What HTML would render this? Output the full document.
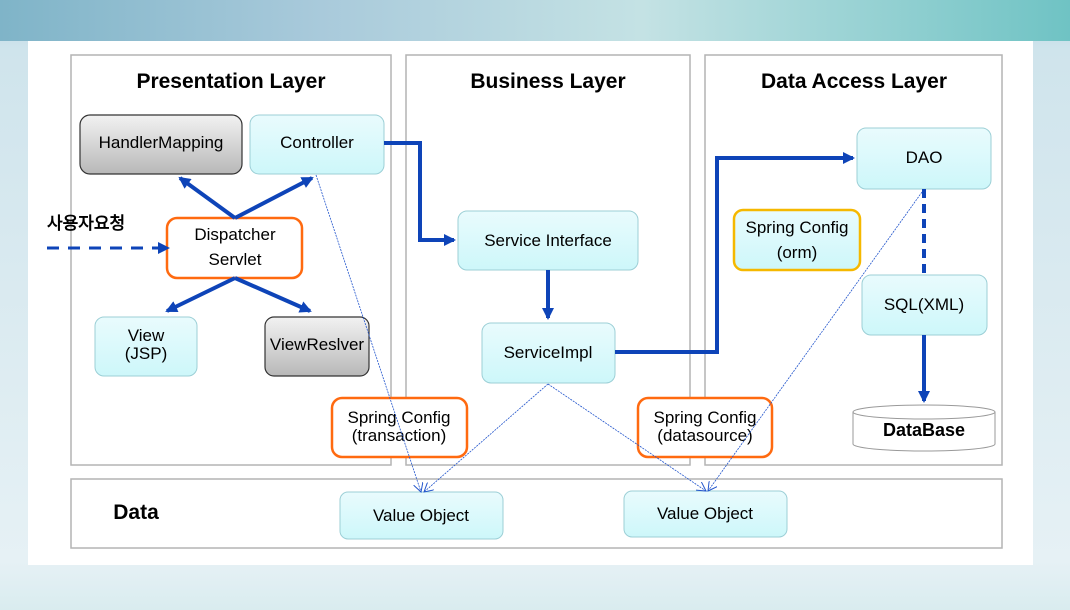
<!DOCTYPE html>
<html><head><meta charset="utf-8"><style>
html,body{margin:0;padding:0;width:1070px;height:610px;overflow:hidden}
body{background:linear-gradient(180deg,#b9d6e3 0%,#cfe4ec 8%,#e6f1f5 92%,#d9ecef 100%)}
svg{position:absolute;left:0;top:0}
text{font-family:"Liberation Sans","DejaVu Sans",sans-serif}
</style></head><body>
<svg width="1070" height="610" viewBox="0 0 1070 610">
<defs>
<linearGradient id="bg" x1="0" y1="0" x2="1" y2="0"><stop offset="0" stop-color="#7fb4c8"/><stop offset=".3" stop-color="#a9cadb"/><stop offset=".6" stop-color="#c4e2e4"/><stop offset="1" stop-color="#6fc3c4"/></linearGradient>
<linearGradient id="cy" x1="0" y1="0" x2="0" y2="1"><stop offset="0" stop-color="#e9fbfd"/><stop offset="1" stop-color="#cdf7fa"/></linearGradient>
<linearGradient id="gr" x1="0" y1="0" x2="0" y2="1"><stop offset="0" stop-color="#f2f2f2"/><stop offset="1" stop-color="#b8b8b8"/></linearGradient>
<marker id="ah" markerWidth="13" markerHeight="12" refX="10" refY="6" orient="auto" markerUnits="userSpaceOnUse"><path d="M0,0 L12,6 L0,12 z" fill="#0e44b8"/></marker>
<marker id="th" markerWidth="10" markerHeight="10" refX="9" refY="5" orient="auto" markerUnits="userSpaceOnUse"><path d="M0,0 L9,5 L0,10" fill="none" stroke="#2255cc" stroke-width="1"/></marker>
</defs>
<rect x="0" y="0" width="1070" height="41" fill="url(#bg)"/>
<rect x="28" y="41" width="1005" height="524" fill="#fff"/>
<g fill="none" stroke="#b4b4b4" stroke-width="1.5">
<rect x="71" y="55" width="320" height="410"/>
<rect x="406" y="55" width="284" height="410"/>
<rect x="705" y="55" width="297" height="410"/>
<rect x="71" y="479" width="931" height="69"/>
</g>
<g font-weight="bold" font-size="21" text-anchor="middle" fill="#000">
<text x="231" y="88">Presentation Layer</text>
<text x="548" y="88">Business Layer</text>
<text x="854" y="88">Data Access Layer</text>
<text x="136" y="519" text-anchor="middle">Data</text>
</g>
<text x="47" y="229" font-weight="bold" font-size="17" font-family="'Noto Sans CJK KR',sans-serif">사용자요청</text>
<g stroke="#9ccfd6" stroke-width="1">
<rect x="250" y="115" width="134" height="59" rx="9" fill="url(#cy)"/>
<rect x="95" y="317" width="102" height="59" rx="9" fill="url(#cy)"/>
<rect x="458" y="211" width="180" height="59" rx="9" fill="url(#cy)"/>
<rect x="482" y="323" width="133" height="60" rx="9" fill="url(#cy)"/>
<rect x="857" y="128" width="134" height="61" rx="9" fill="url(#cy)"/>
<rect x="862" y="275" width="125" height="60" rx="9" fill="url(#cy)"/>
<rect x="340" y="492" width="163" height="47" rx="8" fill="url(#cy)"/>
<rect x="624" y="491" width="163" height="46" rx="8" fill="url(#cy)"/>
</g>
<g stroke="#333" stroke-width="1.2">
<rect x="80" y="115" width="162" height="59" rx="10" fill="url(#gr)"/>
<rect x="265" y="317" width="104" height="59" rx="9" fill="url(#gr)"/>
</g>
<rect x="734" y="210" width="126" height="60" rx="9" fill="url(#cy)" stroke="#f5b800" stroke-width="2.5"/>
<g fill="#fff" stroke="#ff6a10" stroke-width="2.5">
<rect x="167" y="218" width="135" height="60" rx="10"/>
<rect x="332" y="398" width="135" height="59" rx="10"/>
<rect x="638" y="398" width="134" height="59" rx="10"/>
</g>
<path d="M853,412 V444 A71,7 0 0 0 995,444 V412" fill="#fff" stroke="#999"/>
<ellipse cx="924" cy="412" rx="71" ry="7" fill="#fff" stroke="#999"/>
<g font-size="17" text-anchor="middle" fill="#000">
<text x="161" y="148">HandlerMapping</text>
<text x="317" y="148">Controller</text>
<text x="235" y="240">Dispatcher</text>
<text x="235" y="265">Servlet</text>
<text x="146" y="341">View</text>
<text x="146" y="359">(JSP)</text>
<text x="317" y="350">ViewReslver</text>
<text x="548" y="246">Service Interface</text>
<text x="548" y="358">ServiceImpl</text>
<text x="399" y="423">Spring Config</text>
<text x="399" y="441">(transaction)</text>
<text x="705" y="423">Spring Config</text>
<text x="705" y="441">(datasource)</text>
<text x="924" y="163">DAO</text>
<text x="797" y="233">Spring Config</text>
<text x="797" y="258">(orm)</text>
<text x="924" y="310">SQL(XML)</text>
<text x="924" y="436" font-weight="bold" font-size="18">DataBase</text>
<text x="421" y="521">Value Object</text>
<text x="705" y="519">Value Object</text>
</g>
<g fill="none" stroke="#0e44b8" stroke-width="4">
<path d="M235,218 L180,178" marker-end="url(#ah)"/>
<path d="M235,218 L312,178" marker-end="url(#ah)"/>
<path d="M235,278 L167,311" marker-end="url(#ah)"/>
<path d="M235,278 L310,311" marker-end="url(#ah)"/>
<path d="M384,143 H420 V240 H454" marker-end="url(#ah)"/>
<path d="M548,270 V318" marker-end="url(#ah)"/>
<path d="M615,352 H717 V158 H853" marker-end="url(#ah)"/>
<path d="M924,189 V275" stroke-dasharray="9,6"/>
<path d="M924,335 V401" marker-end="url(#ah)"/>
<path d="M47,248 H168" stroke-dasharray="12,9" stroke-width="3" marker-end="url(#ah)"/>
</g>
<g fill="none" stroke="#2255cc" stroke-width="0.8" stroke-dasharray="2,1">
<path d="M316,175 L421,492" marker-end="url(#th)"/>
<path d="M548,384 L424,492" marker-end="url(#th)"/>
<path d="M548,384 L706,491" marker-end="url(#th)"/>
<path d="M922,192 L708,491" marker-end="url(#th)"/>
</g>
</svg>
</body></html>
